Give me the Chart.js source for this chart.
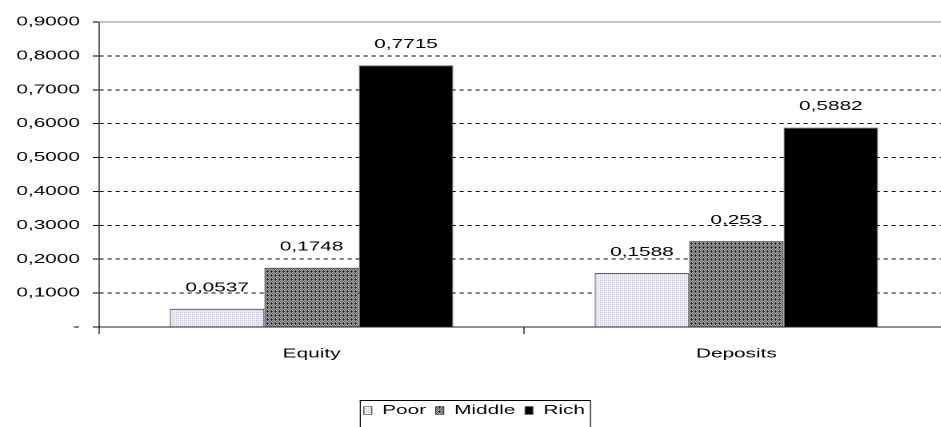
<!DOCTYPE html>
<html>
<head>
<meta charset="utf-8">
<script src="https://cdn.jsdelivr.net/npm/chart.js@4.4.1/dist/chart.umd.min.js"></script>
<style>
  html, body { margin: 0; padding: 0; background: #fff; overflow: hidden; width: 941px; height: 427px; }
  #wrap { position: absolute; left: 0; top: 0; width: 600px; height: 427px; transform: scaleX(1.6); transform-origin: 0 0; }
</style>
</head>
<body>
<div id="wrap"><canvas id="c" width="600" height="427"></canvas></div>
<script>
// Data
const categories = ['Equity', 'Deposits'];
const seriesNames = ['Poor', 'Middle', 'Rich'];
const poorValues = [0.0537, 0.1588];
const middleValues = [0.1748, 0.253];
const richValues = [0.7715, 0.5882];
const yTickLabels = ['-', '0,1000', '0,2000', '0,3000', '0,4000', '0,5000', '0,6000', '0,7000', '0,8000', '0,9000'];

// The canvas is drawn narrow and stretched sideways by the wrapper,
// giving the wide sans-serif lettering of the original spreadsheet chart.
const SX = 1.6;
const FONT = { family: '"Liberation Sans", Arial, sans-serif', size: 13 };

// Small repeating fills for the hatched bars
function makePattern(tileRows, palette) {
  const h = tileRows.length, w = tileRows[0].length;
  const tile = document.createElement('canvas');
  tile.width = w; tile.height = h;
  const t = tile.getContext('2d');
  for (let y = 0; y < h; y++) {
    for (let x = 0; x < w; x++) {
      t.fillStyle = palette[tileRows[y][x]];
      t.fillRect(x, y, 1, 1);
    }
  }
  const p = document.createElement('canvas').getContext('2d').createPattern(tile, 'repeat');
  p.setTransform(new DOMMatrix([1 / SX, 0, 0, 1, 0, 0]));
  return p;
}

const poorFill = makePattern(['ab', 'bb'], { a: '#b4b4d6', b: '#f4f4fc' });
const middleFill = makePattern([
  'wkwk',
  'kwkw',
  'wkwk',
  'kwkk'
], { k: '#111111', w: '#ffffff' });
const richFill = '#000000';

// Solid grey frame line along the top of the plot area
const topFrame = {
  id: 'topFrame',
  beforeDatasetsDraw(chart) {
    const { ctx, chartArea } = chart;
    ctx.save();
    ctx.fillStyle = '#8a8a8a';
    ctx.fillRect(chartArea.left, chartArea.top - 0.5, chartArea.right - chartArea.left + 20, 1);
    ctx.restore();
  }
};

// Values printed above each bar
const valueLabels = {
  id: 'valueLabels',
  afterDatasetsDraw(chart) {
    const { ctx } = chart;
    ctx.save();
    ctx.font = '13px "Liberation Sans", Arial, sans-serif';
    ctx.fillStyle = '#000';
    ctx.textAlign = 'center';
    ctx.textBaseline = 'middle';
    chart.data.datasets.forEach((ds, di) => {
      chart.getDatasetMeta(di).data.forEach((bar, i) => {
        ctx.fillText(String(ds.data[i]).replace('.', ','), bar.x, bar.y - 21);
      });
    });
    ctx.restore();
  }
};

// Thin box around the legend entries
const legendFrame = {
  id: 'legendFrame',
  afterDraw(chart) {
    const lg = chart.legend;
    if (!lg || !lg.legendHitBoxes || !lg.legendHitBoxes.length) return;
    const boxes = lg.legendHitBoxes;
    const l = Math.min(...boxes.map(b => b.left)) - 4 / SX;
    const r = Math.max(...boxes.map(b => b.left + b.width)) + 5 / SX;
    const top = boxes[0].top - 4;
    const { ctx } = chart;
    ctx.save();
    ctx.fillStyle = '#000';
    ctx.fillRect(l, top, r - l, 1);
    ctx.fillRect(l, top, 1 / SX, 60);
    ctx.fillRect(r, top, 1 / SX, 60);
    ctx.restore();
  }
};

const barBorder = { top: 1, left: 1 / SX, right: 1 / SX, bottom: 0 };

new Chart(document.getElementById('c'), {
  type: 'bar',
  data: {
    labels: categories,
    datasets: [
      { label: seriesNames[0], data: poorValues, backgroundColor: poorFill, borderColor: '#333333', borderWidth: barBorder },
      { label: seriesNames[1], data: middleValues, backgroundColor: middleFill, borderColor: '#333333', borderWidth: barBorder },
      { label: seriesNames[2], data: richValues, backgroundColor: richFill, borderColor: '#555555', borderWidth: barBorder }
    ]
  },
  options: {
    responsive: false,
    animation: false,
    devicePixelRatio: 2,
    layout: { padding: { left: 0, right: 7, top: 22, bottom: 0 } },
    datasets: { bar: { categoryPercentage: 0.667, barPercentage: 1.0 } },
    plugins: {
      legend: {
        position: 'bottom',
        labels: { font: FONT, color: '#000', boxWidth: 8 / SX, boxHeight: 8, padding: 6 }
      },
      tooltip: { enabled: false }
    },
    scales: {
      x: {
        offset: true,
        grid: { display: true, offset: true, drawOnChartArea: false, drawTicks: true, tickLength: 7, tickColor: '#000', tickWidth: 1 / SX },
        border: { display: true, color: '#222', width: 1 },
        ticks: { font: FONT, color: '#000', padding: 12 },
        afterFit(s) { s.height = 71; }
      },
      y: {
        min: 0,
        max: 0.9,
        ticks: {
          stepSize: 0.1,
          font: FONT,
          color: '#000',
          padding: 8,
          callback: (v, i) => yTickLabels[i]
        },
        grid: {
          color: (c) => (c.index === 0 || c.index === yTickLabels.length - 1) ? 'rgba(0,0,0,0)' : '#000',
          tickColor: '#000',
          tickLength: 4,
          lineWidth: 1
        },
        border: { display: true, color: '#000', width: 1 / SX, dash: [4 / SX, 4 / SX] },
        afterFit(s) { s.width = 62; }
      }
    }
  },
  plugins: [topFrame, valueLabels, legendFrame]
});
</script>
</body>
</html>
